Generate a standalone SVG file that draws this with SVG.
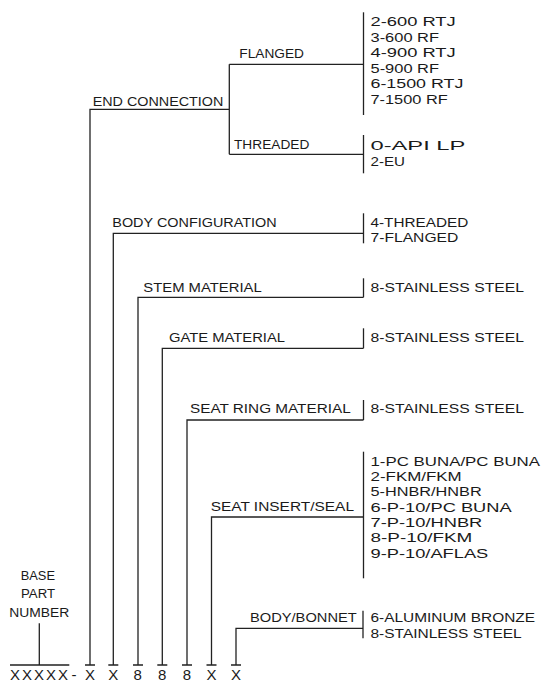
<svg xmlns="http://www.w3.org/2000/svg" width="542" height="683" viewBox="0 0 542 683">
<style>
text{font-family:"Liberation Sans",Arial,sans-serif;font-size:13.6px;fill:#1a1a1a}
.b{font-size:15px}
.l{fill:none;stroke:#222;stroke-width:1.3}
</style>
<rect width="542" height="683" fill="#fff"/>
<g id="connectors" class="l">
<path d="M90 665V109.3H229.3M229.3 64.3V154.3M229.3 64.3H363.5M229.3 154.3H363.5"/>
<path d="M113.3 665V233.3H363.5"/>
<path d="M138 665V297.3H363.5"/>
<path d="M162.3 665V348.3H363.5"/>
<path d="M187 665V420H363.5"/>
<path d="M211.5 665V517H363.5"/>
<path d="M236 665V628.3H363"/>
<path d="M39.3 623.3V665M10 665H69.3"/>
<path d="M85 665H95M108.3 665H118.3M133 665H143M157.3 665H167.3M182 665H192M206.5 665H216.5M231 665H241"/>
</g>
<g id="base">
<text x="20.7" y="580" textLength="34.3" lengthAdjust="spacingAndGlyphs">BASE</text>
<text x="21" y="598.3" textLength="34" lengthAdjust="spacingAndGlyphs">PART</text>
<text x="9.3" y="616.7" textLength="60" lengthAdjust="spacingAndGlyphs">NUMBER</text>
<text class="b" x="10 22 34 46 58 71.5 85 96 108.3 120 133.5 146 158.1 170 182.8 195 206.5 218 231" y="679.6">XXXXX-X X 8 8 8 X X</text>
</g>
<g id="end-connection">
<text x="92.7" y="106" textLength="130.6" lengthAdjust="spacingAndGlyphs">END CONNECTION</text>
</g>
<g id="flanged">
<text x="239.3" y="58.3" textLength="64.7" lengthAdjust="spacingAndGlyphs">FLANGED</text>
<path class="l" d="M363.5 12.3V115"/>
<text x="370.5" y="26" textLength="85.2" lengthAdjust="spacingAndGlyphs">2-600 RTJ</text>
<text x="370.5" y="41.5" textLength="68.5" lengthAdjust="spacingAndGlyphs">3-600 RF</text>
<text x="370.5" y="57" textLength="85.2" lengthAdjust="spacingAndGlyphs">4-900 RTJ</text>
<text x="370.5" y="72.5" textLength="68.5" lengthAdjust="spacingAndGlyphs">5-900 RF</text>
<text x="370.5" y="88" textLength="92.8" lengthAdjust="spacingAndGlyphs">6-1500 RTJ</text>
<text x="370.5" y="103.5" textLength="77.2" lengthAdjust="spacingAndGlyphs">7-1500 RF</text>
</g>
<g id="threaded">
<text x="234" y="149.3" textLength="75.3" lengthAdjust="spacingAndGlyphs">THREADED</text>
<path class="l" d="M363.5 135V173.3"/>
<text x="370.5" y="150.4" textLength="94.8" lengthAdjust="spacingAndGlyphs">0-API LP</text>
<text x="370.5" y="165.9" textLength="34.5" lengthAdjust="spacingAndGlyphs">2-EU</text>
</g>
<g id="body-configuration">
<text x="112.3" y="227.3" textLength="164.4" lengthAdjust="spacingAndGlyphs">BODY CONFIGURATION</text>
<path class="l" d="M363.5 213.3V243.3"/>
<text x="370.5" y="226.5" textLength="97.8" lengthAdjust="spacingAndGlyphs">4-THREADED</text>
<text x="370.5" y="242.3" textLength="87.8" lengthAdjust="spacingAndGlyphs">7-FLANGED</text>
</g>
<g id="stem-material">
<text x="143.3" y="291.7" textLength="118.4" lengthAdjust="spacingAndGlyphs">STEM MATERIAL</text>
<path class="l" d="M363.5 278.3V297.3"/>
<text x="370.5" y="291.7" textLength="153.5" lengthAdjust="spacingAndGlyphs">8-STAINLESS STEEL</text>
</g>
<g id="gate-material">
<text x="169" y="341.7" textLength="116" lengthAdjust="spacingAndGlyphs">GATE MATERIAL</text>
<path class="l" d="M363.5 328.3V348.3"/>
<text x="370.5" y="341.7" textLength="153.5" lengthAdjust="spacingAndGlyphs">8-STAINLESS STEEL</text>
</g>
<g id="seat-ring-material">
<text x="190" y="413.3" textLength="160.7" lengthAdjust="spacingAndGlyphs">SEAT RING MATERIAL</text>
<path class="l" d="M363.5 400V420"/>
<text x="370.5" y="413.3" textLength="153.5" lengthAdjust="spacingAndGlyphs">8-STAINLESS STEEL</text>
</g>
<g id="seat-insert-seal">
<text x="210.7" y="510.7" textLength="143.3" lengthAdjust="spacingAndGlyphs">SEAT INSERT/SEAL</text>
<path class="l" d="M363.5 451.7V578.3"/>
<text x="370.5" y="465.5" textLength="169.5" lengthAdjust="spacingAndGlyphs">1-PC BUNA/PC BUNA</text>
<text x="370.5" y="480.8" textLength="91.2" lengthAdjust="spacingAndGlyphs">2-FKM/FKM</text>
<text x="370.5" y="496.1" textLength="111.2" lengthAdjust="spacingAndGlyphs">5-HNBR/HNBR</text>
<text x="370.5" y="511.5" textLength="141.2" lengthAdjust="spacingAndGlyphs">6-P-10/PC BUNA</text>
<text x="370.5" y="526.9" textLength="111.8" lengthAdjust="spacingAndGlyphs">7-P-10/HNBR</text>
<text x="370.5" y="542.2" textLength="101.8" lengthAdjust="spacingAndGlyphs">8-P-10/FKM</text>
<text x="370.5" y="557.5" textLength="117.8" lengthAdjust="spacingAndGlyphs">9-P-10/AFLAS</text>
</g>
<g id="body-bonnet">
<text x="250" y="622.3" textLength="106.7" lengthAdjust="spacingAndGlyphs">BODY/BONNET</text>
<path class="l" d="M363 610.7V638.3"/>
<text x="370.5" y="622.3" textLength="164.5" lengthAdjust="spacingAndGlyphs">6-ALUMINUM BRONZE</text>
<text x="370.5" y="637.7" textLength="151.2" lengthAdjust="spacingAndGlyphs">8-STAINLESS STEEL</text>
</g>
</svg>
